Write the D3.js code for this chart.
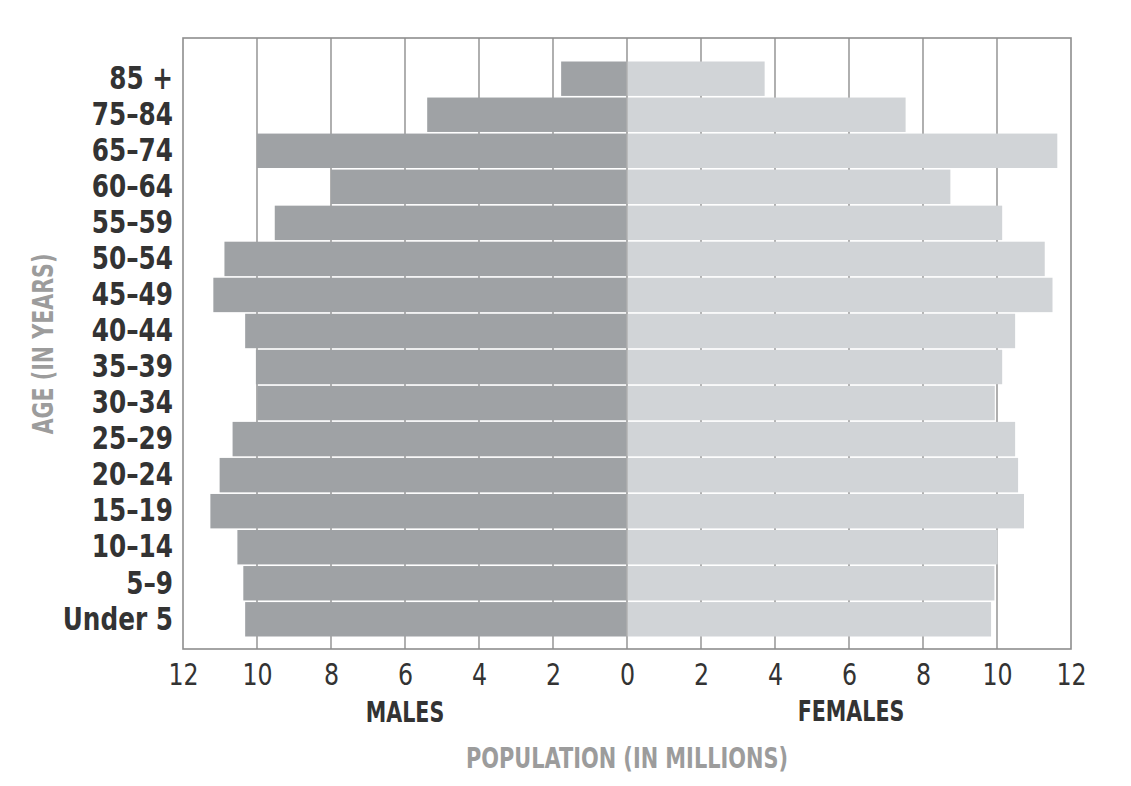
<!DOCTYPE html>
<html lang='en'>

<head>
    <meta charset='UTF-8'>
    <title>Population pyramid</title>
    <script src="https://cdn.jsdelivr.net/npm/d3@7"></script>
    <style>
        body { margin: 0; background: #fff; }
        text { font-family: "Liberation Sans Narrow", "DejaVu Sans Condensed", sans-serif; }
    </style>
</head>

<body>
    <svg class="pyramid-svg"></svg>
</body>

<script>
    // age groups, top to bottom
    const ages = ['85 +', '75–84', '65–74', '60–64', '55–59', '50–54', '45–49', '40–44',
                  '35–39', '30–34', '25–29', '20–24', '15–19', '10–14', '5–9', 'Under 5'];
    // millions
    const males = [1.78, 5.4, 10.0, 8.0, 9.52, 10.88, 11.18, 10.32,
                   10.03, 9.99, 10.66, 11.01, 11.26, 10.53, 10.37, 10.32];
    const females = [3.72, 7.53, 11.63, 8.74, 10.14, 11.29, 11.5, 10.49,
                     10.14, 9.94, 10.49, 10.57, 10.73, 10.02, 9.93, 9.84];
    const xTicks = [-12, -10, -8, -6, -4, -2, 0, 2, 4, 6, 8, 10, 12];

    const width = 1131,
          height = 786;
    const plotLeft = 183, plotRight = 1071, plotTop = 38, plotBottom = 649;

    const svg = d3.select('.pyramid-svg')
                  .attr('width', width)
                  .attr('height', height);

    const x = d3.scaleLinear().domain([-12, 12]).range([plotLeft, plotRight]);
    const y = d3.scaleBand().domain(ages).range([61.5, 636.5]).paddingInner(0.045);

    // grid lines behind the bars
    svg.append('g')
       .selectAll('line')
       .data(xTicks.filter(d => Math.abs(d) < 12))
       .enter()
       .append('line')
       .attr('x1', d => x(d)).attr('x2', d => x(d))
       .attr('y1', plotTop).attr('y2', plotBottom)
       .attr('stroke', '#8e8e8e')
       .attr('stroke-width', 1.4);

    // males to the left
    svg.append('g')
       .selectAll('rect')
       .data(males)
       .enter()
       .append('rect')
       .attr('x', d => x(-d))
       .attr('y', (d, i) => y(ages[i]))
       .attr('width', d => x(0) - x(-d) - 0.7)
       .attr('height', y.bandwidth())
       .attr('fill', '#9fa2a5');

    // females to the right
    svg.append('g')
       .selectAll('rect')
       .data(females)
       .enter()
       .append('rect')
       .attr('x', x(0) + 0.7)
       .attr('y', (d, i) => y(ages[i]))
       .attr('width', d => x(d) - x(0) - 0.7)
       .attr('height', y.bandwidth())
       .attr('fill', '#d1d4d7');

    // frame
    svg.append('rect')
       .attr('x', plotLeft).attr('y', plotTop)
       .attr('width', plotRight - plotLeft).attr('height', plotBottom - plotTop)
       .attr('fill', 'none')
       .attr('stroke', '#8e8e8e')
       .attr('stroke-width', 1.6);

    // x axis labels (squeezed to look like a condensed face)
    const xAxis = svg.append('g')
       .attr('transform', `translate(0, ${plotBottom})`)
       .call(d3.axisBottom(x).tickValues(xTicks).tickSize(0).tickPadding(14).tickFormat(d => Math.abs(d)));
    xAxis.select('.domain').remove();
    xAxis.selectAll('text')
         .attr('transform', 'scale(0.85, 1)')
         .style('font-size', '31px')
         .style('fill', '#333');

    // y axis labels
    const yAxis = svg.append('g')
       .attr('transform', `translate(${plotLeft}, 0)`)
       .call(d3.axisLeft(y).tickSize(0).tickPadding(11.6));
    yAxis.select('.domain').remove();
    yAxis.selectAll('text')
         .attr('transform', 'scale(0.86, 1)')
         .style('font-size', '32px')
         .style('font-weight', 'bold')
         .style('fill', '#333');

    // helper for the free-standing labels
    function label(txt, tx, ty, rot, sx, size, color) {
        return svg.append('text')
           .text(txt)
           .attr('transform', `translate(${tx}, ${ty}) rotate(${rot}) scale(${sx}, 1)`)
           .style('text-anchor', 'middle')
           .style('font-size', size + 'px')
           .style('font-weight', 'bold')
           .style('fill', color);
    }

    label('MALES', 405, 722, 0, 0.79, 29, '#333');
    label('FEMALES', 851, 721, 0, 0.79, 29, '#333');
    label('POPULATION (IN MILLIONS)', 627, 768, 0, 0.8, 29, '#9c9c9c');
    label('AGE (IN YEARS)', 53, 344, -90, 0.79, 29, '#9c9c9c');
</script>

</html>
